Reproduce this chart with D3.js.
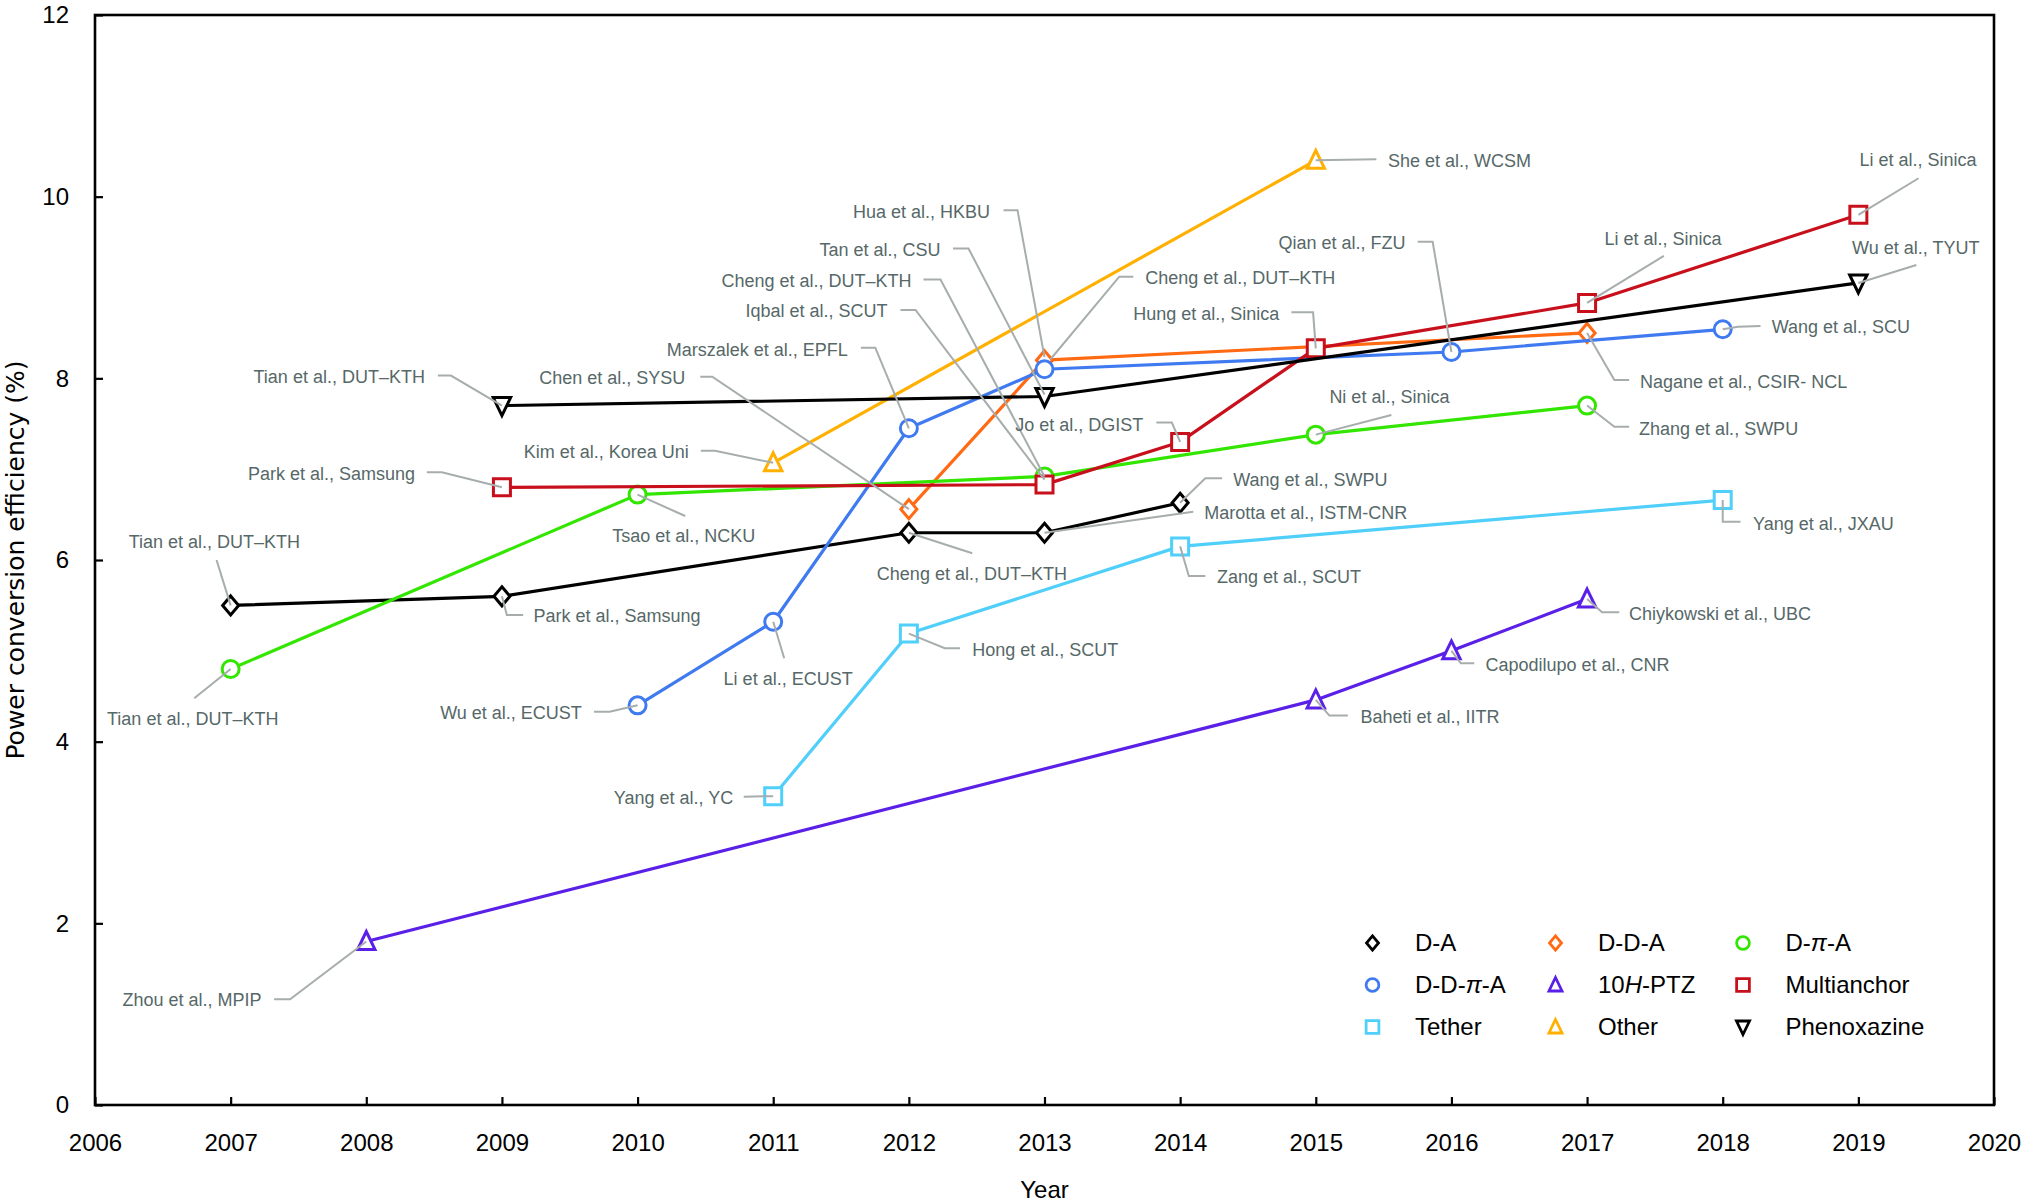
<!DOCTYPE html>
<html>
<head>
<meta charset="utf-8">
<script src="https://cdn.jsdelivr.net/npm/d3@7"></script>
<style>
  html, body { margin: 0; padding: 0; background: #fff; }
  svg { display: block; }
</style>
</head>
<body>
<svg id="chart" width="2025" height="1203"></svg>
<script>
// ---------------- DATA ----------------
const xTickValues = [2006, 2007, 2008, 2009, 2010, 2011, 2012, 2013, 2014, 2015, 2016, 2017, 2018, 2019, 2020];
const yTickValues = [0, 2, 4, 6, 8, 10, 12];

const seriesKeys  = ["DA", "DDA", "DPA", "DDPA", "PTZ", "MA", "TE", "OT", "PX"];
const seriesNames = ["D-A", "D-D-A", "D-π-A", "D-D-π-A", "10H-PTZ", "Multianchor", "Tether", "Other", "Phenoxazine"];

// [year, PCE %]
const DA   = [[2007, 5.5], [2009, 5.6], [2012, 6.3], [2013, 6.3], [2014, 6.63]];
const DDA  = [[2012, 6.56], [2013, 8.2], [2017, 8.5]];
const DPA  = [[2007, 4.8], [2010, 6.72], [2013, 6.92], [2015, 7.38], [2017, 7.7]];
const DDPA = [[2010, 4.4], [2011, 5.32], [2012, 7.45], [2013, 8.1], [2016, 8.29], [2018, 8.54]];
const PTZ  = [[2008, 1.8], [2015, 4.46], [2016, 5.0], [2017, 5.57]];
const MA   = [[2009, 6.8], [2013, 6.83], [2014, 7.3], [2015, 8.33], [2017, 8.83], [2019, 9.8]];
const TE   = [[2011, 3.4], [2012, 5.19], [2014, 6.15], [2018, 6.66]];
const OT   = [[2011, 7.07], [2015, 10.4]];
const PX   = [[2009, 7.7], [2013, 7.8], [2019, 9.05]];

const seriesData = { DA, DDA, DPA, DDPA, PTZ, MA, TE, OT, PX };

// annotation labels: text, series, year
const noteTexts = [
  ["Tian et al., DUT–KTH", "PX", 2009],
  ["Hua et al., HKBU", "DDA", 2013],
  ["Tan et al., CSU", "PX", 2013],
  ["Cheng et al., DUT–KTH", "DPA", 2013],
  ["Iqbal et al., SCUT", "MA", 2013],
  ["Marszalek et al., EPFL", "DDPA", 2012],
  ["Chen et al., SYSU", "DDA", 2012],
  ["Cheng et al., DUT–KTH", "DDPA", 2013],
  ["Hung et al., Sinica", "MA", 2015],
  ["Jo et al., DGIST", "MA", 2014],
  ["Ni et al., Sinica", "DPA", 2015],
  ["Wang et al., SWPU", "DA", 2014],
  ["Marotta et al., ISTM-CNR", "DA", 2013],
  ["Cheng et al., DUT–KTH", "DA", 2012],
  ["Tsao et al., NCKU", "DPA", 2010],
  ["Kim et al., Korea Uni", "OT", 2011],
  ["Li et al., ECUST", "DDPA", 2011],
  ["Hong et al., SCUT", "TE", 2012],
  ["Yang et al., YC", "TE", 2011],
  ["Zang et al., SCUT", "TE", 2014],
  ["Wu et al., ECUST", "DDPA", 2010],
  ["Park et al., Samsung", "DA", 2009],
  ["Tian et al., DUT–KTH", "DA", 2007],
  ["Tian et al., DUT–KTH", "DPA", 2007],
  ["Park et al., Samsung", "MA", 2009],
  ["Zhou et al., MPIP", "PTZ", 2008],
  ["Baheti et al., IITR", "PTZ", 2015],
  ["Capodilupo et al., CNR", "PTZ", 2016],
  ["Chiykowski et al., UBC", "PTZ", 2017],
  ["Yang et al., JXAU", "TE", 2018],
  ["Zhang et al., SWPU", "DPA", 2017],
  ["Nagane et al., CSIR- NCL", "DDA", 2017],
  ["Wang et al., SCU", "DDPA", 2018],
  ["Wu et al., TYUT", "PX", 2019],
  ["Li et al., Sinica", "MA", 2019],
  ["Li et al., Sinica", "MA", 2017],
  ["Qian et al., FZU", "DDPA", 2016],
  ["She et al., WCSM", "OT", 2015]
];

// ---------------- LAYOUT / STYLE ----------------
// label offsets (px) relative to the annotated point: text pos, anchor, leader path
const noteLayout = [
  { tx: -77, ty: -29, a: "end", p: [[-64, -30], [-51, -30], [0, 0]] },
  { tx: -54.5, ty: -148.5, a: "end", p: [[-41, -150], [-27, -150], [0, -3]] },
  { tx: -104, ty: -147, a: "end", p: [[-91.5, -148], [-76, -148], [0, -2]] },
  { tx: -133, ty: -196, a: "end", p: [[-121, -197], [-104, -197], [0, 0]] },
  { tx: -157, ty: -173.5, a: "end", p: [[-144, -174.6], [-129, -174.6], [0, -5]] },
  { tx: -61, ty: -79, a: "end", p: [[-48, -80.6], [-33.6, -80.6], [0, 0]] },
  { tx: -223.6, ty: -131.5, a: "end", p: [[-208.6, -132.5], [-196.6, -132.5], [0, 0]] },
  { tx: 100.8, ty: -91.6, a: "start", p: [[88.8, -92.6], [74.8, -92.6], [6, -10]] },
  { tx: -36.4, ty: -35, a: "end", p: [[-24.4, -36], [-2.7, -36], [0, 0]] },
  { tx: -36.8, ty: -17.7, a: "end", p: [[-23.8, -19.3], [-8.3, -19.3], [0, 0]] },
  { tx: 13.6, ty: -38, a: "start", p: [[75.6, -19.7], [0, 0]] },
  { tx: 53, ty: -23.5, a: "start", p: [[42, -24.5], [25.2, -24.5], [0, 0]] },
  { tx: 159.8, ty: -20, a: "start", p: [[148.8, -21], [0, 0]] },
  { tx: -32, ty: 40.5, a: "start", p: [[63.4, 20.5], [0, 0]] },
  { tx: -25.4, ty: 41.4, a: "start", p: [[47.6, 21.4], [0, 0]] },
  { tx: -84.5, ty: -11, a: "end", p: [[-72.5, -12], [-58.2, -12], [0, 0]] },
  { tx: -49.6, ty: 56.5, a: "start", p: [[11, 36.5], [0, 0]] },
  { tx: 63.4, ty: 15.7, a: "start", p: [[51.2, 14.7], [35.9, 14.7], [0, 0]] },
  { tx: -40, ty: 1.5, a: "end", p: [[-29.5, 0.5], [0, 0]] },
  { tx: 36.8, ty: 30.3, a: "start", p: [[25.2, 29.6], [8.7, 29.6], [0, 0]] },
  { tx: -55.7, ty: 7, a: "end", p: [[-43.6, 6.4], [-28, 6.4], [0, 0]] },
  { tx: 31.6, ty: 19.6, a: "start", p: [[0, 0], [4.9, 18.6], [21.2, 18.6]] },
  { tx: -102, ty: -63.7, a: "start", p: [[-14.1, -45.4], [0, 0]] },
  { tx: -123.6, ty: 49.3, a: "start", p: [[-36.4, 29.3], [0, 0]] },
  { tx: -86.8, ty: -14.1, a: "end", p: [[-75.1, -15.1], [-60.1, -15.1], [0, 0]] },
  { tx: -104.7, ty: 58.5, a: "end", p: [[-92.2, 57.8], [-76.2, 57.8], [0, 0]] },
  { tx: 44.6, ty: 16.7, a: "start", p: [[0, 0], [13.6, 15.7], [32, 15.7]] },
  { tx: 34, ty: 14, a: "start", p: [[0, 0], [9.4, 12.4], [22.8, 12.4]] },
  { tx: 42, ty: 14.2, a: "start", p: [[0, 0], [15, 13.2], [32.2, 13.2]] },
  { tx: 30.3, ty: 23.2, a: "start", p: [[0, 0], [0, 21.6], [17.8, 21.6]] },
  { tx: 52, ty: 22.7, a: "start", p: [[0, 0], [27.3, 21.1], [42.1, 21.1]] },
  { tx: 53, ty: 48.7, a: "start", p: [[0, 0], [27.3, 47], [42.1, 47]] },
  { tx: 49, ty: -2.6, a: "start", p: [[0, 0], [15.4, -2.6], [37.8, -3.3]] },
  { tx: -6.3, ty: -35.7, a: "start", p: [[58, -18], [0, 0]] },
  { tx: 1.2, ty: -55, a: "start", p: [[60.2, -36.6], [0, 0]] },
  { tx: 17.4, ty: -64.7, a: "start", p: [[76.8, -47], [0, 0]] },
  { tx: -46, ty: -109.3, a: "end", p: [[-33.7, -110.3], [-18.8, -110.3], [0, 0]] },
  { tx: 72.2, ty: 0.3, a: "start", p: [[60.6, -1.1], [0, 0]] }
];

const colors = {
  DA: "#000000", DDA: "#ff6a13", DPA: "#33e600", DDPA: "#3f7af0", PTZ: "#5a20e8",
  MA: "#c8101c", TE: "#4fcffa", OT: "#ffb000", PX: "#000000"
};
const shapes = {
  DA: "diamond", DDA: "diamond", DPA: "circle", DDPA: "circle", PTZ: "triUp",
  MA: "square", TE: "square", OT: "triUp", PX: "triDown"
};

const W = 2025, H = 1203;
const plot = { left: 95, right: 1994, top: 15, bottom: 1105 };
const SANS = "'Liberation Sans', Arial, sans-serif";
const NOTE_COLOR = "#566868";
const LEADER_COLOR = "#a7adad";

const svg = d3.select("#chart");
svg.append("rect").attr("width", W).attr("height", H).attr("fill", "#fff");

const x = d3.scaleLinear().domain([2006, 2020]).range([plot.left, plot.right]);
const y = d3.scaleLinear().domain([0, 12]).range([plot.bottom, plot.top]);

function markerPath(shape, s) {
  switch (shape) {
    case "diamond": { const w = 8 * s, h = 9.5 * s; return `M0,${-h}L${w},0L0,${h}L${-w},0Z`; }
    case "square": { const a = 8.5 * s; return `M${-a},${-a}H${a}V${a}H${-a}Z`; }
    case "triUp": { const t = 10 * s, b = 8 * s, w = 8.7 * s; return `M0,${-t}L${w},${b}L${-w},${b}Z`; }
    case "triDown": { const t = 10 * s, b = 8 * s, w = 8.7 * s; return `M0,${t}L${w},${-b}L${-w},${-b}Z`; }
    case "circle": { const r = 8.5 * s; return `M${r},0A${r},${r} 0 1,1 ${-r},0A${r},${r} 0 1,1 ${r},0Z`; }
  }
}

// ---------------- AXES ----------------
const xAxis = d3.axisBottom(x).tickValues(xTickValues).tickFormat(d3.format("d"))
  .tickSizeInner(-8).tickSizeOuter(0).tickPadding(29);
const gx = svg.append("g").attr("transform", `translate(0,${plot.bottom})`).call(xAxis);
gx.select(".domain").remove();
gx.selectAll(".tick line").attr("stroke", "#000").attr("stroke-width", 2.2);
gx.selectAll(".tick text").attr("font-family", SANS).attr("font-size", 24).attr("fill", "#000");

const yAxis = d3.axisLeft(y).tickValues(yTickValues)
  .tickSizeInner(-8).tickSizeOuter(0).tickPadding(26);
const gy = svg.append("g").attr("transform", `translate(${plot.left},0)`).call(yAxis);
gy.select(".domain").remove();
gy.selectAll(".tick line").attr("stroke", "#000").attr("stroke-width", 2.2);
gy.selectAll(".tick text").attr("font-family", SANS).attr("font-size", 24).attr("fill", "#000");

// frame
svg.append("rect")
  .attr("x", plot.left).attr("y", plot.top)
  .attr("width", plot.right - plot.left).attr("height", plot.bottom - plot.top)
  .attr("fill", "none").attr("stroke", "#000").attr("stroke-width", 2.6);

// axis titles
svg.append("text")
  .attr("x", (plot.left + plot.right) / 2).attr("y", 1190).attr("dy", "0.35em")
  .attr("text-anchor", "middle").attr("font-family", SANS).attr("font-size", 24)
  .text("Year");
svg.append("text")
  .attr("transform", `translate(15,${(plot.top + plot.bottom) / 2}) rotate(-90)`)
  .attr("dy", "0.35em").attr("text-anchor", "middle")
  .attr("font-family", "'DejaVu Sans', sans-serif").attr("font-size", 25)
  .text("Power conversion efficiency (%)");

// ---------------- SERIES ----------------
const line = d3.line().x(d => x(d[0])).y(d => y(d[1]));
const gSeries = svg.append("g");
seriesKeys.forEach(k => {
  const g = gSeries.append("g");
  g.append("path").datum(seriesData[k]).attr("d", line)
    .attr("fill", "none").attr("stroke", colors[k]).attr("stroke-width", 3.2)
    .attr("stroke-linejoin", "round");
  g.selectAll("path.m").data(seriesData[k]).join("path").attr("class", "m")
    .attr("transform", d => `translate(${x(d[0])},${y(d[1])})`)
    .attr("d", markerPath(shapes[k], 1))
    .attr("fill", "#fff").attr("stroke", colors[k]).attr("stroke-width", 3);
});

// ---------------- ANNOTATIONS ----------------
const gNotes = svg.append("g");
noteTexts.forEach((n, i) => {
  const [txt, key, yr] = n;
  const pt = seriesData[key].find(d => d[0] === yr);
  const px = x(pt[0]), py = y(pt[1]);
  const L = noteLayout[i];
  gNotes.append("path")
    .attr("d", d3.line()(L.p.map(q => [px + q[0], py + q[1]])))
    .attr("fill", "none").attr("stroke", LEADER_COLOR).attr("stroke-width", 2);
  gNotes.append("text")
    .attr("x", px + L.tx).attr("y", py + L.ty).attr("dy", "0.35em")
    .attr("text-anchor", L.a).attr("font-family", SANS).attr("font-size", 18)
    .attr("fill", NOTE_COLOR).text(txt);
});

// ---------------- LEGEND ----------------
const legend = { x0: 1372.5, y0: 943, colDx: [0, 183, 370.5], rowDy: 42, textDx: 42.5 };
const gLeg = svg.append("g");
seriesKeys.forEach((k, i) => {
  const col = i % 3, row = Math.floor(i / 3);
  const lx = legend.x0 + legend.colDx[col], ly = legend.y0 + row * legend.rowDy;
  gLeg.append("path").attr("transform", `translate(${lx},${ly})`)
    .attr("d", markerPath(shapes[k], 0.75))
    .attr("fill", "#fff").attr("stroke", colors[k]).attr("stroke-width", 2.8);
  const t = gLeg.append("text").attr("x", lx + legend.textDx).attr("y", ly).attr("dy", "0.35em")
    .attr("font-family", SANS).attr("font-size", 24).attr("fill", "#000");
  const name = seriesNames[i];
  if (name === "10H-PTZ") {
    t.append("tspan").text("10");
    t.append("tspan").attr("font-style", "italic").text("H");
    t.append("tspan").text("-PTZ");
  } else if (name.includes("π")) {
    const parts = name.split("π");
    t.append("tspan").text(parts[0]);
    t.append("tspan").attr("font-style", "italic").text("π");
    t.append("tspan").text(parts[1]);
  } else {
    t.text(name);
  }
});
</script>
</body>
</html>
